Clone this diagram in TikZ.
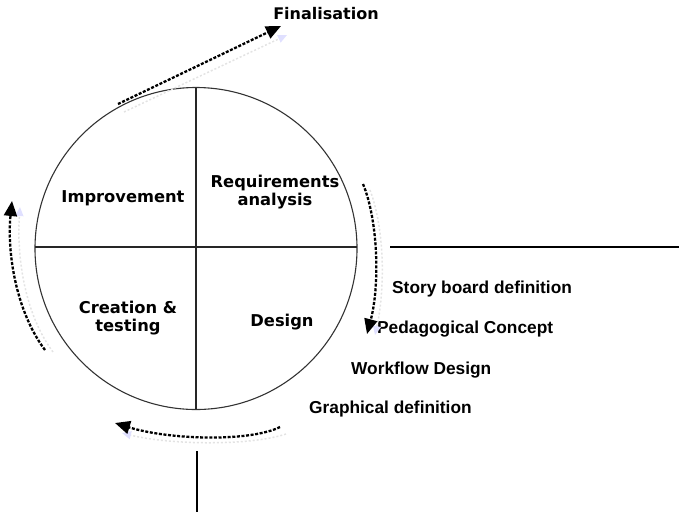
\documentclass[tikz,border=0pt]{standalone}
\usepackage{fontspec}
\setmainfont{DejaVu Sans}
\newfontfamily\arialb{Liberation Sans}
\usetikzlibrary{arrows.meta}
\tikzset{
  quad/.style={font=\fontsize{16.3}{18}\selectfont\bfseries, align=center, inner sep=0pt},
  side/.style={font=\arialb\fontsize{17.3}{19}\selectfont\bfseries, anchor=west, inner sep=0pt},
  flow/.style={line width=2.3pt, dash pattern=on 3pt off 1.6pt, -{Triangle[length=15pt,width=13pt]}},
  ghost/.style={line width=1.5pt, color=gray!22, dash pattern=on 2pt off 2pt, -{Triangle[length=9pt,width=8pt,color=blue!12]}},
  rule/.style={line width=1.1pt, draw=black!85}
}
\begin{document}
\begin{tikzpicture}[x=1pt,y=-1pt]
\useasboundingbox (0,0) rectangle (679,512);
% circle and quadrants
\node[draw=black!80, line width=1.1pt, circle, minimum size=322pt, inner sep=0pt] (c) at (196,248.5) {};
\coordinate (cl) at (35,247);
\coordinate (cr) at (357,247);
\coordinate (ct) at (196,88);
\coordinate (cb) at (196,409);
\draw[rule] (cl) -- (cr);
\draw[rule] (ct) -- (cb);
% outer lines
\coordinate (h1) at (390,247);
\coordinate (h2) at (679,247);
\draw[line width=1.4pt] (h1) -- (h2);
\coordinate (v1) at (197,451);
\coordinate (v2) at (197,512);
\draw[line width=1.4pt] (v1) -- (v2);
% quadrant labels
\node[quad] (imp) at (123,198) {Improvement};
\node[quad] (req) at (275,192) {Requirements\\[0.5pt]analysis};
\node[quad] (cre) at (128,318) {Creation \&\\[0.5pt]testing};
\node[quad] (des) at (282,322) {Design};
\node[font=\fontsize{16}{18}\selectfont\bfseries, inner sep=0pt] (fin) at (326,14) {Finalisation};
% side labels
\node[side] (sb) at (392,289) {Story board definition};
\node[side] (pc) at (377,329) {Pedagogical Concept};
\node[side] (wd) at (351,370) {Workflow Design};
\node[side] (gd) at (309,409) {Graphical definition};
% arrows: ghosts
\coordinate (f0) at (118,104);
\coordinate (f1) at (281,26);
\draw[ghost] (124,112) -- (287,35);
\draw[ghost] (53,352) .. controls (22,310) and (17,250) .. (20,207);
\draw[ghost] (370,190) .. controls (385,230) and (385,290) .. (375,335);
\draw[ghost] (286,434) .. controls (250,446) and (170,445) .. (122,433);
% arrows
\draw[flow] (f0) -- (f1);
\coordinate (l0) at (45,350);
\coordinate (l1) at (12,201);
\draw[flow] (l0) .. controls (15,310) and (7,250) .. (l1);
\coordinate (r0) at (363,184);
\coordinate (r1) at (367,334);
\draw[flow] (r0) .. controls (378,220) and (380,285) .. (r1);
\coordinate (b0) at (280,427);
\coordinate (b1) at (115,423);
\draw[flow] (b0) .. controls (250,442) and (170,440) .. (b1);
\end{tikzpicture}
\end{document}
